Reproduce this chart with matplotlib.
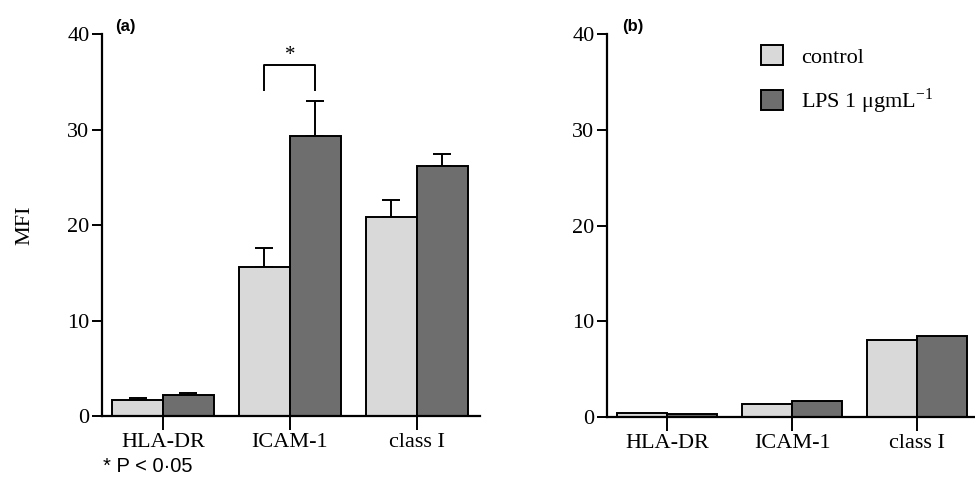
import matplotlib
matplotlib.use("Agg")
import matplotlib.pyplot as plt
import numpy as np
from matplotlib.patches import Patch

plt.rcParams['font.family'] = ['Liberation Serif', 'DejaVu Serif']
plt.rcParams['mathtext.fontset'] = 'stix'

categories = ["HLA-DR", "ICAM-1", "class I"]
series_names = ["control", "LPS 1 \u03bcgmL$^{\\mathregular{-1}}$"]
a_control = [1.67, 15.6, 20.8]
a_control_err = [0.18, 2.0, 1.8]
a_lps = [2.2, 29.3, 26.2]
a_lps_err = [0.17, 3.7, 1.3]
b_control = [0.42, 1.33, 8.0]
b_lps = [0.28, 1.67, 8.44]
yticks = [0, 10, 20, 30, 40]

c_ctrl = "#d9d9d9"
c_lps = "#6e6e6e"

fig = plt.figure(figsize=(9.75, 4.82), dpi=100)
axA = fig.add_axes([0.1046, 0.137, 0.388, 0.792])
axB = fig.add_axes([0.6226, 0.135, 0.376, 0.794])

x = np.arange(len(categories))
w = 0.40
FS = 16

def style(ax, xr):
    ax.set_ylim(0, 40)
    ax.set_xlim(-0.48, xr)
    ax.set_yticks(yticks)
    ax.set_xticks(x)
    ax.set_xticklabels(categories)
    for s in ["top", "right"]:
        ax.spines[s].set_visible(False)
    for s in ["left", "bottom"]:
        ax.spines[s].set_linewidth(1.6)
    ax.tick_params(axis='y', direction='out', length=7, width=1.4, labelsize=FS, pad=2)
    ax.tick_params(axis='x', direction='out', length=10, width=1.4, labelsize=FS, pad=2)

# Panel a
axA.bar(x - w/2, a_control, w, color=c_ctrl, edgecolor='black', linewidth=1.4, zorder=2)
axA.bar(x + w/2, a_lps, w, color=c_lps, edgecolor='black', linewidth=1.4, zorder=2)
axA.errorbar(x - w/2, a_control, yerr=[np.zeros(3), a_control_err], fmt='none',
             ecolor='black', elinewidth=1.4, capsize=6.5, capthick=1.4, zorder=1)
axA.errorbar(x + w/2, a_lps, yerr=[np.zeros(3), a_lps_err], fmt='none',
             ecolor='black', elinewidth=1.4, capsize=6.5, capthick=1.4, zorder=1)
style(axA, 2.5)
axA.set_ylabel("MFI", fontsize=FS, labelpad=24)
# significance bracket
axA.plot([1 - w/2, 1 - w/2, 1 + w/2, 1 + w/2], [34.2, 36.8, 36.8, 34.2],
         color='black', linewidth=1.4, clip_on=False)
axA.text(1, 36.75, "*", ha='center', va='bottom', fontsize=15)
axA.text(0.035, 1.0, "(a)", transform=axA.transAxes, fontsize=12, fontweight='bold',
         family=['Liberation Sans', 'DejaVu Sans'], va='bottom')

# Panel b
axB.bar(x - w/2, b_control, w, color=c_ctrl, edgecolor='black', linewidth=1.4, zorder=2)
axB.bar(x + w/2, b_lps, w, color=c_lps, edgecolor='black', linewidth=1.4, zorder=2)
style(axB, 2.45)
axB.text(0.04, 1.0, "(b)", transform=axB.transAxes, fontsize=12, fontweight='bold',
         family=['Liberation Sans', 'DejaVu Sans'], va='bottom')
handles = [Patch(facecolor=c_ctrl, edgecolor='black', linewidth=1.4),
           Patch(facecolor=c_lps, edgecolor='black', linewidth=1.4)]
axB.legend(handles, series_names, frameon=False, fontsize=16, loc='upper left',
           bbox_to_anchor=(0.365, 1.025), handlelength=1.0, handleheight=1.05,
           labelspacing=0.85, handletextpad=0.8)

fig.text(103/975, 1 - 467/482, "* P < 0\u00b705", fontsize=14.5,
         family=['Liberation Sans', 'DejaVu Sans'], va='center')

fig.savefig("out.png", dpi=100)
